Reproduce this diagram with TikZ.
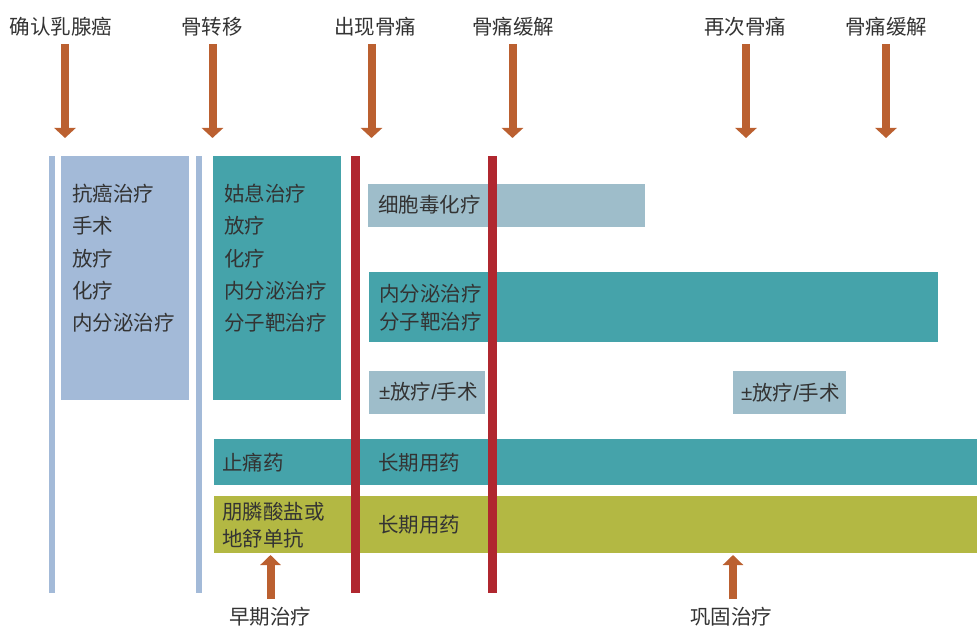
\documentclass[tikz,border=0pt]{standalone}
\usepackage{fontspec}
\newfontfamily\cjk{Noto Sans CJK SC}
\newfontfamily\lat{Liberation Sans}
\usetikzlibrary{arrows.meta}
\definecolor{arr}{RGB}{187,96,48}
\definecolor{lblue}{RGB}{163,186,216}
\definecolor{tealb}{RGB}{69,163,170}
\definecolor{redbar}{RGB}{176,39,47}
\definecolor{grayblue}{RGB}{158,189,202}
\definecolor{oliveb}{RGB}{179,184,67}
\definecolor{txt}{RGB}{51,51,51}
\newcommand{\pmtext}{{\lat ±}}
\newcommand{\sltext}{{\lat /}}
\begin{document}
\begin{tikzpicture}[x=1pt,y=-1pt,
  every node/.style={inner sep=0pt,outer sep=0pt},
  lbl/.style={font=\cjk\fontsize{20.5}{24}\selectfont,text=txt},
  toplbl/.style={lbl,anchor=base},
  tl/.style={lbl,anchor=base west,align=left},
  box/.style={anchor=north west,draw=none},
  downarr/.style={draw=arr,line width=8pt,-{Triangle[width=21pt,length=10pt]}},
  uparr/.style={draw=arr,line width=8pt,-{Triangle[width=20pt,length=10pt]}}
]
\useasboundingbox (0,0) rectangle (977,628);

% top labels
\node[toplbl] (t1) at (61,34.5) {确认乳腺癌};
\node[toplbl] (t2) at (212,34.5) {骨转移};
\node[toplbl] (t3) at (375,34.5) {出现骨痛};
\node[toplbl] (t4) at (513,34.5) {骨痛缓解};
\node[toplbl] (t5) at (745,34.5) {再次骨痛};
\node[toplbl] (t6) at (886,34.5) {骨痛缓解};

% down arrows
\foreach \n/\x in {1/65,2/212.5,3/371.5,4/512.5,5/746,6/886}{
  \coordinate (d\n s) at (\x,44);
  \coordinate (d\n e) at (\x,138);
  \draw[downarr] (d\n s) -- (d\n e);
}

% thin light blue lines
\node[box,fill=lblue,minimum width=6pt,minimum height=437pt] (v1) at (49,156) {};
\node[box,fill=lblue,minimum width=6pt,minimum height=437pt] (v2) at (196,156) {};

% early boxes (multi-line nodes: base = last line)
\node[box,fill=lblue,minimum width=128pt,minimum height=244pt] (b1) at (61,156) {};
\node[tl,font=\cjk\fontsize{20.5}{32.3}\selectfont] (b1t) at (72,330.7) {抗癌治疗\\手术\\放疗\\化疗\\内分泌治疗};
\node[box,fill=tealb,minimum width=128pt,minimum height=244pt] (b2) at (213,156) {};
\node[tl,font=\cjk\fontsize{20.5}{32.3}\selectfont] (b2t) at (224,330.7) {姑息治疗\\放疗\\化疗\\内分泌治疗\\分子靶治疗};

% later boxes
\node[box,fill=grayblue,minimum width=277pt,minimum height=43pt] (c1) at (368,184) {};
\node[tl] (c1t) at (378,212.5) {细胞毒化疗};
\node[box,fill=tealb,minimum width=569pt,minimum height=70pt] (c2) at (369,272) {};
\node[tl,font=\cjk\fontsize{20.5}{28}\selectfont] (c2t) at (379,329.5) {内分泌治疗\\分子靶治疗};
\node[box,fill=grayblue,minimum width=116pt,minimum height=43pt] (c3) at (369,371) {};
\node[tl] (c3t) at (379,399.5) {\pmtext 放疗\sltext 手术};
\node[box,fill=grayblue,minimum width=113pt,minimum height=43pt] (c4) at (733,371) {};
\node[tl] (c4t) at (741,400) {\pmtext 放疗\sltext 手术};

% long bars
\node[box,fill=tealb,minimum width=763pt,minimum height=46pt] (p1) at (214,439) {};
\node[tl] (p1a) at (222,470.5) {止痛药};
\node[tl] (p1b) at (378,470.5) {长期用药};
\node[box,fill=oliveb,minimum width=763pt,minimum height=57pt] (p2) at (214,496) {};
\node[tl,font=\cjk\fontsize{20.5}{27}\selectfont] (p2a) at (222,546) {朋膦酸盐或\\地舒单抗};
\node[tl] (p2b) at (378,532.5) {长期用药};

% red bars
\node[box,fill=redbar,minimum width=9pt,minimum height=437pt] (r1) at (351,156) {};
\node[box,fill=redbar,minimum width=9pt,minimum height=437pt] (r2) at (488,156) {};

% up arrows
\coordinate (u1s) at (270.5,599);
\coordinate (u1e) at (270.5,555);
\draw[uparr] (u1s) -- (u1e);
\coordinate (u2s) at (733,599);
\coordinate (u2e) at (733,555);
\draw[uparr] (u2s) -- (u2e);
\node[toplbl] (e1) at (270,624.5) {早期治疗};
\node[toplbl] (e2) at (731,624.5) {巩固治疗};
\end{tikzpicture}
\end{document}
